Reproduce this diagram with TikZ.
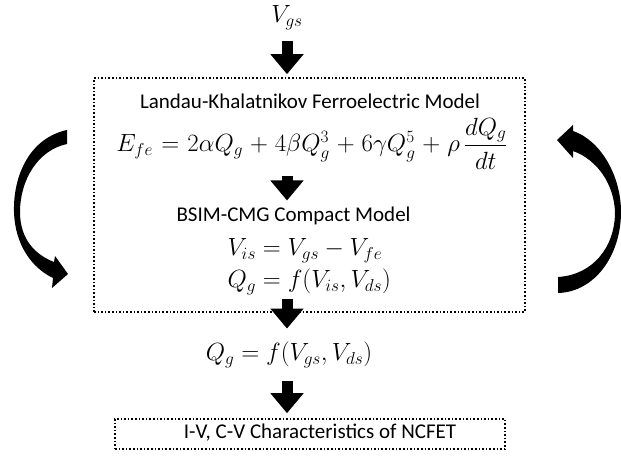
\documentclass[tikz,border=0pt]{standalone}
\usepackage{amsmath}
\usepackage{fontspec}
\setmainfont{Carlito}
\usetikzlibrary{arrows.meta,positioning,calc}
\newcommand\wideops{\medmuskip=5mu\relax\thickmuskip=6mu\relax}

\begin{document}
\begin{tikzpicture}[x=1pt, y=-1pt,
    txt/.style={font=\fontsize{21}{25}\selectfont},
    eqn/.style={font=\fontsize{23}{27}\selectfont},
    bigeqn/.style={font=\fontsize{25}{29}\selectfont, inner sep=0.5pt},
    dotbox/.style={rectangle, draw, dotted, line width=1.6pt},
    fatarrow/.style={line width=11pt, -{Triangle[width=32pt,length=20pt]}},
    loop/.style={fill=black}
]
\useasboundingbox (0,0) rectangle (621,457);

% Input
\node[eqn] (vgs) at (287,18) {$V_{gs}$};

% Model box
\node[dotbox, minimum width=431, minimum height=234] (model) at (309.5,195) {};
\node[txt, inner sep=1pt] (lk) at (310,101) {Landau-Khalatnikov Ferroelectric Model};
\node[bigeqn, anchor=base] (eq) at (312,152) {$\wideops E_{fe} = 2\alpha Q_g + 4\beta Q_g^3 + 6\gamma Q_g^5 + \rho\,\dfrac{dQ_g}{dt}$};
\node[txt, anchor=west] (bsim) at (173,216) {BSIM-CMG Compact Model};
\node[eqn, anchor=west] (vis) at (224,251) {$V_{is} = V_{gs} - V_{fe}$};
\node[eqn, anchor=west] (qg) at (224,282) {$Q_g = f(V_{is}, V_{ds})$};

% Output
\node[eqn] (qgout) at (289,355) {$Q_g = f(V_{gs}, V_{ds})$};
\node[dotbox, minimum width=390, minimum height=30] (result) at (310,434) {};
\node[txt] (restext) at ($(result)+(10,-1)$) {I-V, C-V Characteristics of NCFET};

% Block arrows
\draw[fatarrow, shorten <=7pt, shorten >=3pt] (vgs) -- (vgs |- model.north);
\draw[fatarrow, shorten <=6pt, shorten >=3pt] (eq.south -| vgs) -- (bsim.north -| vgs);
\draw[fatarrow, shorten <=1pt, shorten >=10pt] (qg.south -| vgs) -- (qgout.north -| vgs);
\draw[fatarrow, shorten <=10pt, shorten >=5pt] (qgout.south -| vgs) -- (result.north -| vgs);

% Feedback arrows
\fill[loop] (67,130) .. controls (30,138) and (13,175) .. (14,212)
    .. controls (15,245) and (32,268) .. (53,278) -- (52,288) -- (68,274) -- (55,256) -- (54,262)
    .. controls (36,255) and (20,240) .. (20,212)
    .. controls (20,180) and (38,150) .. (67,144) -- cycle;
\fill[loop] (558,293) .. controls (595,292) and (621,255) .. (621,212)
    .. controls (621,175) and (600,140) .. (573,131) -- (573,125) -- (557,140) -- (573,158) -- (573,151)
    .. controls (598,160) and (614,185) .. (615,212)
    .. controls (615,248) and (592,275) .. (558,277) -- cycle;

\end{tikzpicture}
\end{document}
